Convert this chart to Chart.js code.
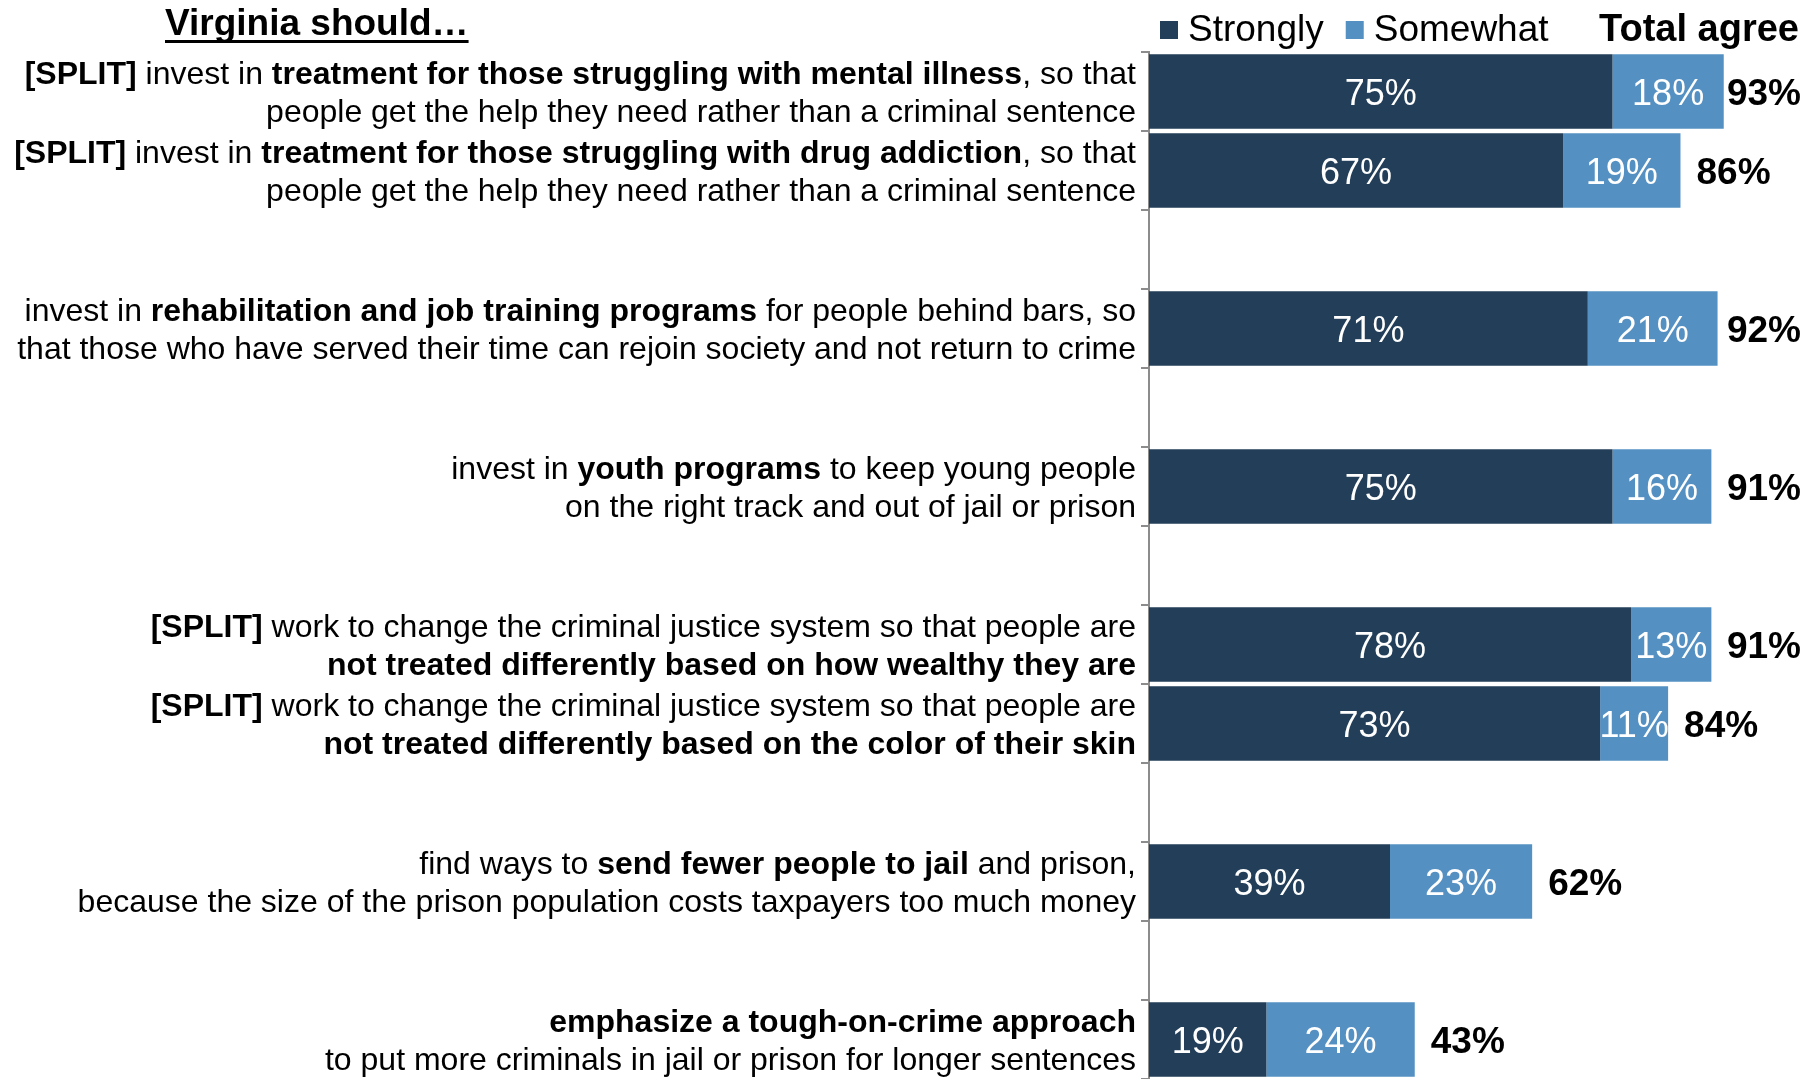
<!DOCTYPE html>
<html>
<head>
<meta charset="utf-8">
<script src="https://cdn.jsdelivr.net/npm/chart.js@4/dist/chart.umd.min.js"></script>
<style>
  html, body { margin: 0; padding: 0; background: #fff; }
  canvas { display: block; }
</style>
</head>
<body>
<canvas id="grafico" width="1807" height="1079"></canvas>
<script>
// Textos das categorias (trechos entre ** ficam em negrito), linhas vazias = espaço entre grupos
const categorias = [
  ["**[SPLIT]** invest in **treatment for those struggling with mental illness**, so that", "people get the help they need rather than a criminal sentence"],
  ["**[SPLIT]** invest in **treatment for those struggling with drug addiction**, so that", "people get the help they need rather than a criminal sentence"],
  [],
  ["invest in **rehabilitation and job training programs** for people behind bars, so", "that those who have served their time can rejoin society and not return to crime"],
  [],
  ["invest in **youth programs** to keep young people", "on the right track and out of jail or prison"],
  [],
  ["**[SPLIT]** work to change the criminal justice system so that people are", "**not treated differently based on how wealthy they are**"],
  ["**[SPLIT]** work to change the criminal justice system so that people are", "**not treated differently based on the color of their skin**"],
  [],
  ["find ways to **send fewer people to jail** and prison,", "because the size of the prison population costs taxpayers too much money"],
  [],
  ["**emphasize a tough-on-crime approach**", "to put more criminals in jail or prison for longer sentences"]
];

const fortemente = [75, 67, null, 71, null, 75, null, 78, 73, null, 39, null, 19];
const algo       = [18, 19, null, 21, null, 16, null, 13, 11, null, 23, null, 24];
const total      = [93, 86, null, 92, null, 91, null, 91, 84, null, 62, null, 43];

const titulo = "Virginia should…";
const nomesSeries = ["Strongly", "Somewhat"];
const tituloTotal = "Total agree";

const FONTE = '"Liberation Sans", Arial, sans-serif';
const COR_ESCURA = '#233e58';
const COR_CLARA = '#5590c2';

function fonte(tam, negrito) {
  return (negrito ? 'bold ' : '') + tam + 'px ' + FONTE;
}

// escreve uma linha com trechos em negrito, alinhada à direita
function textoRico(ctx, linha, xDir, y, tam) {
  const partes = linha.split('**');
  let largura = 0;
  partes.forEach((p, i) => { ctx.font = fonte(tam, i % 2 === 1); largura += ctx.measureText(p).width; });
  let x = xDir - largura;
  ctx.textAlign = 'left';
  partes.forEach((p, i) => {
    ctx.font = fonte(tam, i % 2 === 1);
    ctx.fillText(p, x, y);
    x += ctx.measureText(p).width;
  });
}

const rotulos = {
  id: 'rotulos',
  afterDatasetsDraw(chart) {
    const ctx = chart.ctx;
    const xs = chart.scales.x;
    const ys = chart.scales.y;
    ctx.save();
    ctx.textBaseline = 'middle';

    // valores dentro das barras
    [0, 1].forEach(d => {
      const meta = chart.getDatasetMeta(d);
      meta.data.forEach((barra, i) => {
        const v = chart.data.datasets[d].data[i];
        if (v == null) return;
        ctx.font = fonte(36, false);
        ctx.fillStyle = '#fff';
        ctx.textAlign = 'center';
        ctx.fillText(v + '%', (barra.x + barra.base) / 2, barra.y + 4);
      });
    });

    // total
    total.forEach((t, i) => {
      if (t == null) return;
      ctx.font = fonte(37, true);
      ctx.fillStyle = '#000';
      ctx.textAlign = 'left';
      const w = ctx.measureText(t + '%').width;
      const x = Math.min(xs.getPixelForValue(t) + 16, chart.width - 6 - w);
      ctx.fillText(t + '%', x, ys.getPixelForValue(i) + 3);
    });

    // textos das categorias
    ctx.fillStyle = '#000';
    categorias.forEach((linhas, i) => {
      if (!linhas.length) return;
      const yc = ys.getPixelForValue(i);
      linhas.forEach((l, k) => {
        textoRico(ctx, l, chart.chartArea.left - 13, yc + (k - (linhas.length - 1) / 2) * 38 + 3, 32);
      });
    });

    // título sublinhado
    ctx.font = fonte(37, true);
    ctx.textAlign = 'left';
    ctx.fillText(titulo, 165, 25);
    const wt = ctx.measureText(titulo).width;
    ctx.fillRect(165, 40, wt, 3);

    // legenda
    let x = 1160;
    chart.data.datasets.forEach(ds => {
      ctx.fillStyle = ds.backgroundColor;
      ctx.fillRect(x, 21, 18, 18);
      ctx.fillStyle = '#000';
      ctx.font = fonte(37, false);
      ctx.fillText(ds.label, x + 28, 31);
      x += 28 + ctx.measureText(ds.label).width + 22;
    });
    ctx.font = fonte(38, true);
    ctx.textAlign = 'right';
    ctx.fillText(tituloTotal, 1799, 31);

    ctx.restore();
  }
};

new Chart(document.getElementById('grafico'), {
  type: 'bar',
  data: {
    labels: categorias.map((c, i) => String(i)),
    datasets: [
      { label: nomesSeries[0], data: fortemente, backgroundColor: COR_ESCURA },
      { label: nomesSeries[1], data: algo, backgroundColor: COR_CLARA }
    ]
  },
  options: {
    indexAxis: 'y',
    responsive: false,
    animation: false,
    devicePixelRatio: 1,
    layout: { padding: { top: 52, right: 40, bottom: 0, left: 0 } },
    datasets: { bar: { categoryPercentage: 1, barPercentage: 0.94 } },
    plugins: { legend: { display: false }, tooltip: { enabled: false } },
    scales: {
      x: { stacked: true, min: 0, max: 100, display: false },
      y: {
        stacked: true,
        ticks: { display: false },
        grid: { offset: true, drawOnChartArea: false, drawTicks: true, tickLength: 8, color: '#8c8c8c', lineWidth: 2 },
        border: { display: true, color: '#8c8c8c', width: 2 },
        afterFit(escala) { escala.width = 1149; }
      }
    }
  },
  plugins: [rotulos]
});
</script>
</body>
</html>
